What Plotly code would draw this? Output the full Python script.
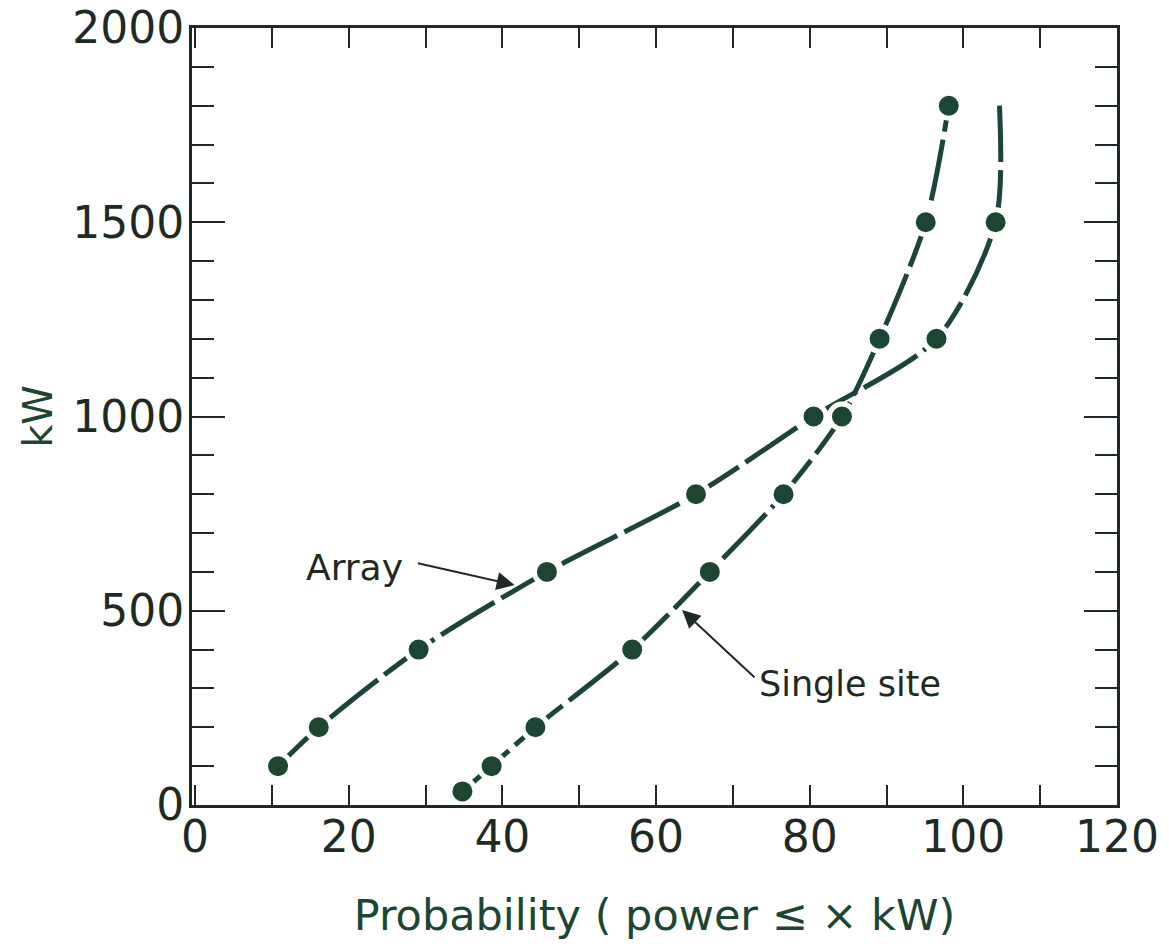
import plotly.graph_objects as go

# ---- data ----
array_x = [10.8, 16.1, 29.1, 45.8, 65.2, 80.5, 96.5, 104.2, 104.7]
array_y = [100, 200, 400, 600, 800, 1000, 1200, 1500, 1800]
array_has_marker = [1, 1, 1, 1, 1, 1, 1, 1, 0]   # last point: curve end only

single_x = [34.8, 38.6, 44.3, 56.9, 67.0, 76.6, 84.2, 89.1, 95.1, 98.1]
single_y = [35, 100, 200, 400, 600, 800, 1000, 1200, 1500, 1800]

x_tickvals = [0, 20, 40, 60, 80, 100, 120]
x_ticktext = ["0", "20", "40", "60", "80", "100", "120"]
y_tickvals = [0, 500, 1000, 1500, 2000]
y_ticktext = ["0", "500", "1000", "1500", "2000"]

x_title = "Probability ( power ≤ × kW)"
y_title = "kW"

GREEN = "#1c4632"
INK = "#1f2a24"
FONT = "DejaVu Sans"

fig = go.Figure()

def add_curve(xs, ys, sizes):
    fig.add_trace(go.Scatter(
        x=xs, y=ys, mode="lines",
        line=dict(color=GREEN, width=5, shape="spline", smoothing=0.8, dash="62px,8px"),
        hoverinfo="skip", showlegend=False))
    fig.add_trace(go.Scatter(
        x=xs, y=ys, mode="markers",
        marker=dict(color=GREEN, size=sizes, opacity=1,
                    line=dict(color="white", width=5)),
        showlegend=False))

add_curve(array_x, array_y, [25 if m else 0 for m in array_has_marker])
add_curve(single_x, single_y, 25)

# annotations
fig.add_annotation(x=20.8, y=612, text="Array", showarrow=False,
                   font=dict(family=FONT, size=36, color=INK))
fig.add_annotation(x=41.6, y=566, ax=28.8, ay=623, axref="x", ayref="y",
                   text="", showarrow=True, arrowhead=2, arrowsize=1.8,
                   arrowwidth=2, arrowcolor=INK)
fig.add_annotation(x=85.3, y=311, text="Single site", showarrow=False,
                   font=dict(family=FONT, size=35, color=INK))
fig.add_annotation(x=63.4, y=502, ax=73.0, ay=325, axref="x", ayref="y",
                   text="", showarrow=True, arrowhead=2, arrowsize=1.8,
                   arrowwidth=2, arrowcolor=INK)

fig.update_layout(
    width=1169, height=949,
    margin=dict(l=192, r=52, t=28, b=144),
    paper_bgcolor="white", plot_bgcolor="white",
    font=dict(family=FONT, color=INK),
)
fig.update_xaxes(
    range=[-0.4, 120], tickmode="array", tickvals=x_tickvals, ticktext=x_ticktext,
    ticks="inside", ticklen=20, tickwidth=2, tickcolor=INK,
    minor=dict(dtick=10, tick0=0, ticks="inside", ticklen=20, tickwidth=2, tickcolor=INK),
    showline=True, linewidth=3, linecolor=INK, mirror="allticks",
    showgrid=False, zeroline=False, automargin=False, ticklabelstandoff=-9,
    tickfont=dict(family=FONT, size=44, color=INK),
    title=dict(text=x_title, font=dict(family=FONT, size=43, color=GREEN), standoff=40),
)
fig.update_yaxes(
    range=[0, 2000], tickmode="array", tickvals=y_tickvals, ticktext=y_ticktext,
    ticks="inside", ticklen=33, tickwidth=2, tickcolor=INK,
    minor=dict(dtick=100, tick0=0, ticks="inside", ticklen=22, tickwidth=2, tickcolor=INK),
    showline=True, linewidth=3, linecolor=INK, mirror="allticks",
    showgrid=False, zeroline=False, automargin=False, ticklabelstandoff=-4,
    tickfont=dict(family=FONT, size=44, color=INK),
    title=dict(text=y_title, font=dict(family=FONT, size=40, color=GREEN), standoff=8),
)

fig.write_html("out.html")
